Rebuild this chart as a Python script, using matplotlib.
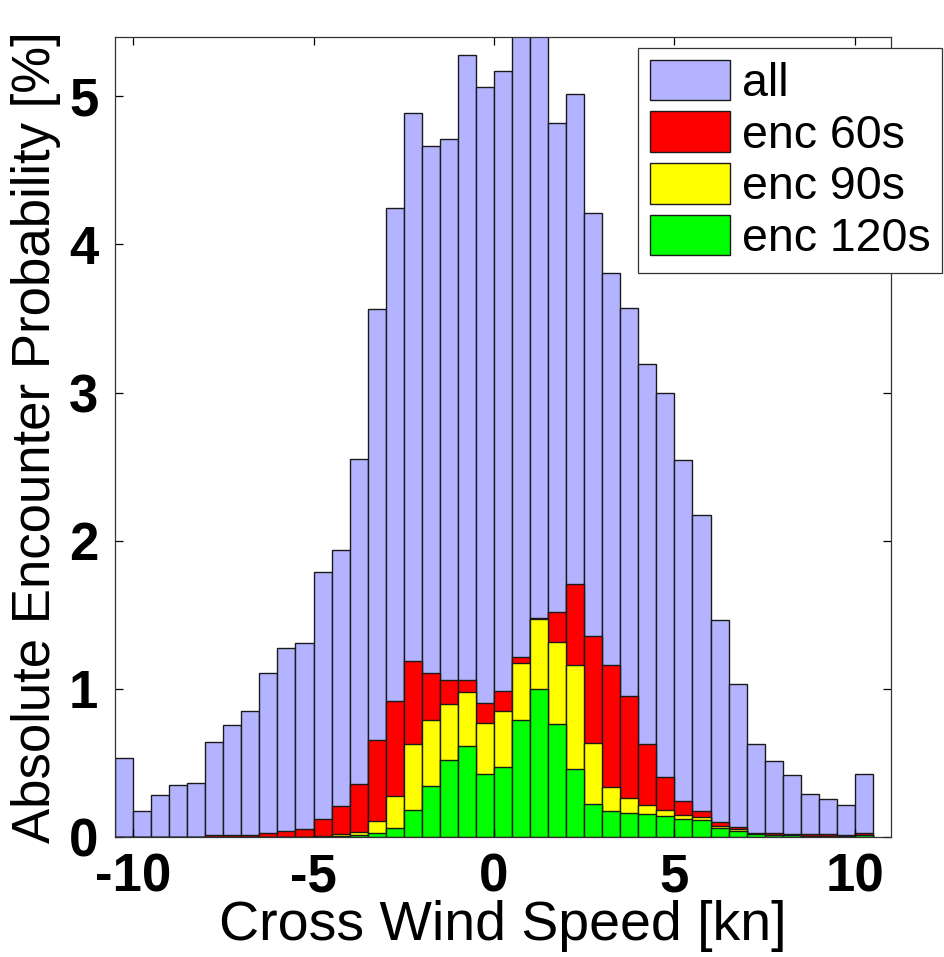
import numpy as np
import matplotlib.pyplot as plt

plt.rcParams['font.family'] = ['Liberation Sans', 'DejaVu Sans']
plt.rcParams['axes.unicode_minus'] = False

# cross wind bins [kn], 0.5 kn wide from -10.5 to 10.5
centers = np.arange(-10.25, 10.26, 0.5)

p_all = [0.531, 0.175, 0.281, 0.349, 0.367, 0.643, 0.754, 0.852, 1.109, 1.273,
         1.307, 1.786, 1.939, 2.551, 3.563, 4.246, 4.887, 4.663, 4.714, 5.279,
         5.061, 5.173, 5.600, 5.550, 4.818, 5.018, 4.213, 3.808, 3.574, 3.192,
         2.994, 2.544, 2.173, 1.467, 1.032, 0.628, 0.513, 0.418, 0.288, 0.254,
         0.218, 0.427]
p_60 = [0.0, 0.0, 0.0, 0.0, 0.0, 0.012, 0.012, 0.015, 0.025, 0.040,
        0.056, 0.124, 0.210, 0.356, 0.655, 0.918, 1.188, 1.109, 1.057, 1.057,
        0.902, 0.987, 1.215, 1.475, 1.516, 1.707, 1.358, 1.163, 0.954, 0.628,
        0.407, 0.245, 0.175, 0.099, 0.065, 0.029, 0.027, 0.020, 0.018, 0.018,
        0.015, 0.025]
p_90 = [0.0, 0.0, 0.0, 0.0, 0.0, 0.0, 0.0, 0.0, 0.0, 0.0,
        0.0, 0.010, 0.020, 0.036, 0.105, 0.277, 0.625, 0.787, 0.900, 0.978,
        0.771, 0.850, 1.176, 1.471, 1.316, 1.161, 0.634, 0.337, 0.260, 0.217,
        0.185, 0.151, 0.138, 0.076, 0.052, 0.022, 0.015, 0.015, 0.010, 0.008,
        0.008, 0.015]
p_120 = [0.0, 0.0, 0.0, 0.0, 0.0, 0.0, 0.0, 0.0, 0.0, 0.0,
         0.0, 0.0, 0.008, 0.013, 0.025, 0.063, 0.184, 0.346, 0.522, 0.616,
         0.425, 0.470, 0.789, 0.997, 0.765, 0.461, 0.220, 0.173, 0.165, 0.158,
         0.140, 0.120, 0.114, 0.062, 0.038, 0.018, 0.011, 0.012, 0.008, 0.006,
         0.006, 0.012]

series = [('all', p_all, '#b3b3ff'),
          ('enc 60s', p_60, '#ff0000'),
          ('enc 90s', p_90, '#ffff00'),
          ('enc 120s', p_120, '#00ff00')]

fig = plt.figure(figsize=(9.44, 9.57), dpi=100)
ax = fig.add_axes([115 / 944, 1 - 837 / 957, (891 - 115) / 944, (837 - 37) / 957])

# overlaid (not stacked) histograms, all starting at zero
for label, vals, col in series:
    ax.bar(centers, vals, width=0.5, color=col, edgecolor='#1a1a1a',
           linewidth=1.0, label=label)

ax.set_xlim(-10.5, 11.0)
ax.set_ylim(0, 5.4)
ax.set_xticks([-10, -5, 0, 5, 10])
ax.set_yticks([0, 1, 2, 3, 4, 5])
ax.tick_params(direction='in', length=6, width=0.9, top=True, right=True,
               labelsize=38)
ax.tick_params(axis='x', pad=11)
ax.tick_params(axis='y', pad=12)
for t in ax.get_xticklabels() + ax.get_yticklabels():
    t.set_fontweight('bold')
for s in ax.spines.values():
    s.set_linewidth(0.9)
    s.set_color('#333333')

ax.set_xlabel('Cross Wind Speed [kn]', fontsize=40, labelpad=-2)
ax.set_ylabel('Absolute Encounter Probability [%]', fontsize=38, labelpad=6)

leg = ax.legend(loc='upper left', bbox_to_anchor=(638 / 944, 1 - 48 / 957),
                bbox_transform=fig.transFigure, borderaxespad=0,
                fontsize=33.5, fancybox=False, framealpha=1,
                edgecolor='#333333', handlelength=1.73, handleheight=0.96,
                handletextpad=0.25, labelspacing=0.12, borderpad=0.25)
leg.get_frame().set_linewidth(0.9)

fig.savefig('out.png', dpi=100)
